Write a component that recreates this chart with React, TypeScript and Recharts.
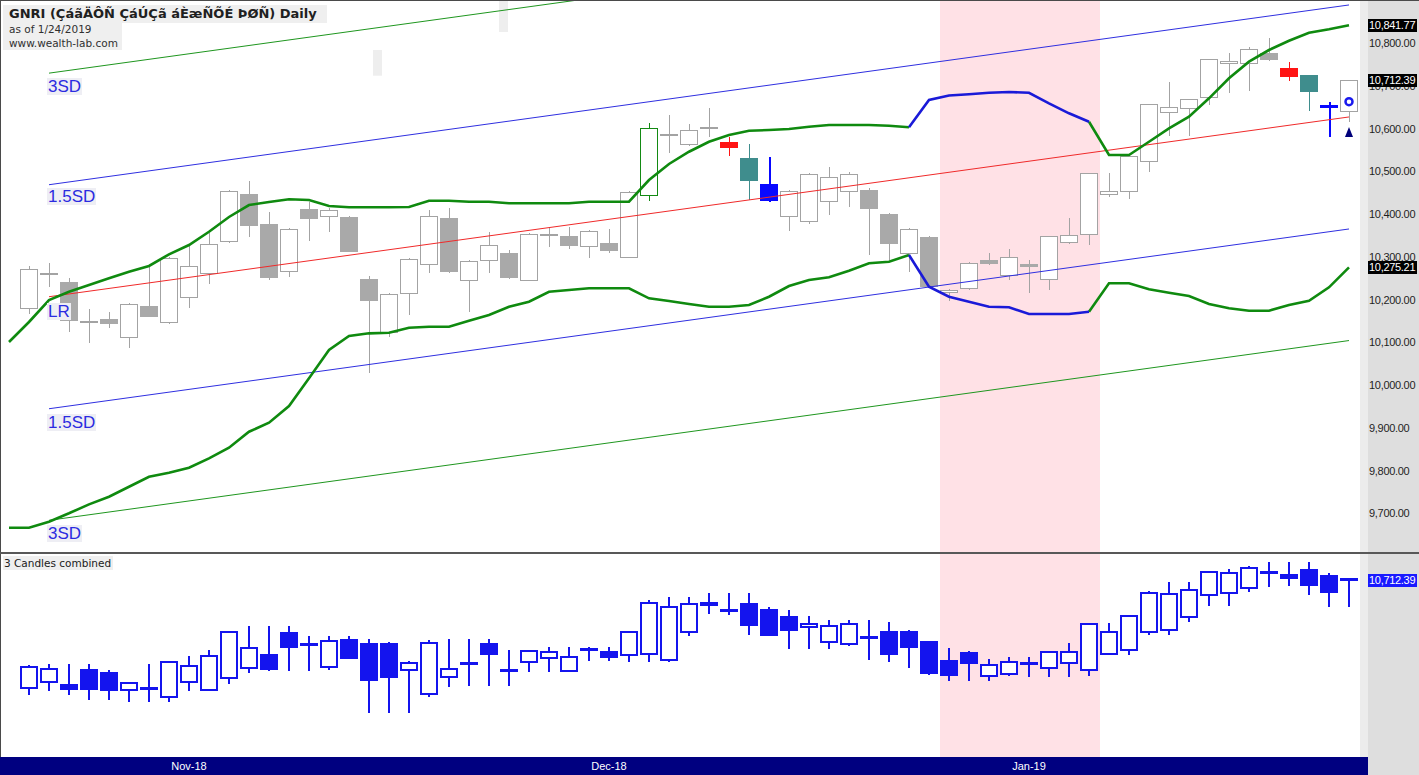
import { Bar, ComposedChart, Line, ReferenceArea, XAxis, YAxis } from "recharts";

// daily bars, index 0 = first candle drawn
const open = [
  10177.8, 10259.7, 10240.9, 10145.0, 10154.4, 10109.9, 10184.8, 10145.0, 10203.5, 10259.7,
  10334.5, 10446.8, 10376.6, 10264.4, 10411.7, 10393.0, 10393.0, 10248.0, 10121.6, 10212.9,
  10280.7, 10390.6, 10243.3, 10290.1, 10308.8, 10243.3, 10350.0, 10348.6, 10322.8, 10332.2,
  10297.1, 10442.1, 10584.0, 10561.4, 10600.5, 10568.4, 10531.0, 10470.2, 10393.0, 10381.3,
  10428.1, 10451.5, 10456.1, 10400.0, 10306.4, 10346.2, 10215.2, 10224.6, 10292.4, 10255.0,
  10283.0, 10245.6, 10332.2, 10350.9, 10444.4, 10451.5, 10521.6, 10636.3, 10645.6, 10671.3,
  10750.9, 10750.9, 10776.6, 10741.5, 10725.1, 10651.0, 10638.6,
];
const high = [
  10278.4, 10285.4, 10250.3, 10177.8, 10170.8, 10191.8, 10280.7, 10299.4, 10325.2, 10355.6,
  10456.1, 10477.2, 10404.7, 10367.2, 10428.1, 10414.0, 10395.3, 10255.0, 10215.2, 10297.1,
  10409.4, 10414.0, 10292.4, 10357.9, 10315.8, 10355.6, 10369.6, 10369.6, 10362.6, 10364.9,
  10453.8, 10612.9, 10631.6, 10610.5, 10648.0, 10580.1, 10563.7, 10533.3, 10456.1, 10495.9,
  10509.9, 10498.2, 10460.8, 10402.3, 10367.2, 10348.6, 10224.6, 10287.7, 10308.8, 10318.1,
  10292.4, 10349.5, 10390.6, 10497.0, 10495.9, 10536.8, 10658.5, 10708.8, 10670.0, 10763.7,
  10776.6, 10790.6, 10811.7, 10755.6, 10726.0, 10662.0, 10713.5,
];
const low = [
  10166.1, 10229.2, 10124.0, 10098.2, 10133.3, 10086.5, 10158.0, 10142.7, 10180.1, 10236.3,
  10332.2, 10346.2, 10245.6, 10252.6, 10336.8, 10357.9, 10310.5, 10028.0, 10112.3, 10163.7,
  10262.0, 10262.0, 10170.8, 10262.0, 10248.0, 10242.5, 10322.8, 10318.1, 10297.1, 10308.8,
  10296.0, 10430.4, 10542.7, 10560.0, 10580.1, 10535.7, 10432.7, 10429.0, 10360.2, 10376.6,
  10397.7, 10416.4, 10304.1, 10292.4, 10264.4, 10228.0, 10196.5, 10222.2, 10280.7, 10245.6,
  10215.2, 10222.2, 10331.0, 10327.5, 10439.8, 10435.1, 10498.2, 10582.5, 10582.5, 10655.0,
  10683.0, 10687.7, 10759.0, 10711.1, 10640.9, 10580.1, 10615.2,
];
const close = [
  10271.4, 10260.5, 10149.7, 10149.7, 10142.7, 10189.5, 10159.0, 10297.1, 10278.4, 10329.8,
  10453.8, 10371.9, 10250.3, 10364.9, 10388.3, 10409.4, 10311.1, 10196.5, 10212.9, 10294.7,
  10395.3, 10264.4, 10290.1, 10327.5, 10250.3, 10353.2, 10351.5, 10325.2, 10360.2, 10313.5,
  10451.5, 10601.2, 10585.5, 10596.5, 10601.9, 10554.4, 10477.2, 10430.4, 10453.8, 10493.6,
  10486.5, 10493.6, 10411.7, 10329.8, 10364.9, 10229.2, 10222.2, 10285.4, 10283.0, 10299.4,
  10276.0, 10348.6, 10350.9, 10495.9, 10453.8, 10535.7, 10657.3, 10650.3, 10669.0, 10762.6,
  10757.9, 10786.0, 10760.2, 10720.5, 10685.4, 10650.3, 10712.39,
];
// the two bars before the window (only feed the 3-candle pane)
const priorOpen = [10154, 10187];
const priorHigh = [10270, 10280];
const priorLow = [10123, 10145];

// envelope bands, starting one bar before the first candle (index -1)
const bandUpper = [
  10100.6, 10147.4, 10198.8, 10218.2, 10233.9, 10249.6, 10265.0, 10278.4, 10305.7, 10327.5,
  10358.6, 10393.0, 10421.0, 10428.1, 10434.4, 10432.7, 10418.7, 10415.7, 10415.7, 10415.7,
  10416.4, 10431.1, 10431.1, 10428.8, 10428.8, 10425.0, 10425.0, 10425.0, 10425.0, 10428.8,
  10428.8, 10428.8, 10479.5, 10517.0, 10545.7, 10569.1, 10584.8, 10594.9, 10596.5, 10598.8,
  10604.2, 10608.2, 10608.2, 10608.2, 10606.5, 10602.8, 10666.7, 10677.2, 10680.0, 10683.7,
  10685.4, 10683.7, 10658.9, 10635.6, 10615.9, 10538.0, 10538.0, 10569.1, 10600.5, 10627.6,
  10670.6, 10717.4, 10756.3, 10783.6, 10805.4, 10824.1, 10832.0, 10841.77,
];
const bandLower = [
  9666.2, 9666.2, 9680.2, 9699.9, 9720.9, 9738.7, 9762.1, 9785.5, 9794.8, 9806.5,
  9828.5, 9853.3, 9890.8, 9911.8, 9950.9, 10015.7, 10081.9, 10114.6, 10120.9, 10122.3,
  10134.0, 10136.4, 10136.4, 10150.4, 10163.7, 10183.2, 10194.8, 10218.2, 10222.2, 10226.2,
  10226.2, 10226.2, 10202.8, 10196.5, 10189.5, 10183.2, 10183.2, 10187.1, 10206.5, 10231.6,
  10245.6, 10251.9, 10267.4, 10284.7, 10288.4, 10304.1, 10229.9, 10206.5, 10194.8, 10183.2,
  10181.8, 10166.1, 10166.1, 10166.1, 10171.5, 10237.9, 10237.9, 10223.9, 10215.9, 10208.2,
  10189.5, 10179.4, 10173.8, 10173.8, 10187.1, 10197.2, 10228.5, 10275.21,
];
const blueBandBars = [44, 53];

// regression channel end points (first, last bar)
const channelBars = [1, 66];
const lrLine = [10206.5, 10627];
const upper15 = [10468.5, 10889];
const lower15 = [9944.5, 10365];
const upper3 = [10729.5, 11150];
const lower3 = [9683.5, 10104];

const greenBars = [31];
const redBars = [35, 63];
const tealBars = [36, 64];
const blueBars = [37, 65];
const signalCircle = 10662.7;
const signalTriangle = 10591.8;

const shadeBars = [45.55, 53.55];
const priceTicks = [9700, 9800, 9900, 10000, 10100, 10200, 10300, 10400, 10500, 10600, 10700, 10800];
const monthTicks = [8, 29, 50];
const monthLabels = ["Nov-18", "Dec-18", "Jan-19"];

const W = 1419;
const MAIN_H = 552;
const LOWER_TOP = 554;
const LOWER_H = 221;
const AXIS_H = 18;
const X_DOMAIN: [number, number] = [-1.4, 66.55];
const MAIN_DOMAIN: [number, number] = [9609.4, 10900.6];
const LOWER_DOMAIN: [number, number] = [9802.6, 10851.8];
const SANS = "'Liberation Sans', Arial, sans-serif";
const TAHOMA = "'DejaVu Sans', Verdana, sans-serif";

const yMain = (v: number) => ((MAIN_DOMAIN[1] - v) / (MAIN_DOMAIN[1] - MAIN_DOMAIN[0])) * MAIN_H;
const yLower = (v: number) =>
  LOWER_TOP + ((LOWER_DOMAIN[1] - v) / (LOWER_DOMAIN[1] - LOWER_DOMAIN[0])) * (LOWER_H - AXIS_H);
const fmt = (v: number) =>
  v.toLocaleString("en-US", { minimumFractionDigits: 2, maximumFractionDigits: 2 });

const endValue = (pair: number[], i: number) =>
  i === channelBars[0] ? pair[0] : i === channelBars[1] ? pair[1] : null;

const mainRows = bandUpper.map((u, k) => {
  const i = k - 1;
  const lo = bandLower[k];
  const blue = i >= blueBandBars[0] && i <= blueBandBars[1];
  const green = i <= blueBandBars[0] || i >= blueBandBars[1];
  return {
    i,
    o: i >= 0 ? open[i] : null,
    h: i >= 0 ? high[i] : null,
    l: i >= 0 ? low[i] : null,
    c: i >= 0 ? close[i] : null,
    upG: green ? u : null,
    upB: blue ? u : null,
    loG: green ? lo : null,
    loB: blue ? lo : null,
    lr: endValue(lrLine, i),
    u15: endValue(upper15, i),
    l15: endValue(lower15, i),
    u3: endValue(upper3, i),
    l3: endValue(lower3, i),
    sigC: i === 66 ? signalCircle : null,
    sigT: i === 66 ? signalTriangle : null,
  };
});

// 3 candles combined: open of bar i-2, close of bar i, extremes of the three
const allOpen = [...priorOpen, ...open];
const allHigh = [...priorHigh, ...high];
const allLow = [...priorLow, ...low];
const comboRows = close.map((c, i) => {
  const k = i + 2;
  return {
    i,
    o: allOpen[k - 2],
    h: Math.max(allHigh[k - 2], allHigh[k - 1], allHigh[k]),
    l: Math.min(allLow[k - 2], allLow[k - 1], allLow[k]),
    c,
  };
});

const candleRange = (d: any) => (d.h == null ? null : [d.l, d.h]);

function lookOf(i: number) {
  if (greenBars.includes(i)) return { color: "#138a13", fill: "#138a13" };
  if (redBars.includes(i)) return { color: "#ff1414", fill: "#ff1414" };
  if (tealBars.includes(i)) return { color: "#3f8d8d", fill: "#3f8d8d" };
  if (blueBars.includes(i)) return { color: "#0808ff", fill: "#0808ff" };
  return { color: "#a3a3a3", fill: "#a9a9a9" };
}

function geometry(props: any) {
  const { x, y, width, height, payload } = props;
  const top = Math.min(y, y + height);
  const span = Math.abs(height);
  const { o, h, l, c } = payload;
  const toY = (v: number) => (h === l ? top : top + ((h - v) / (h - l)) * span);
  return {
    cx: Math.round(x + width / 2 - 0.01),
    yo: toY(o),
    yc: toY(c),
    yh: toY(h),
    yl: toY(l),
    up: c >= o,
  };
}

function MainCandle(props: any) {
  const p = props.payload;
  if (!p || p.h == null || props.x == null) return <g />;
  const { cx, yo, yc, yh, yl, up } = geometry(props);
  const look = lookOf(p.i);
  const thick = blueBars.includes(p.i) ? 2 : 1;
  const bt = Math.round(Math.min(yo, yc));
  const bb = Math.round(Math.max(yo, yc));
  const wx = thick === 2 ? cx + 1 : cx + 0.5;
  let body;
  if (bb - bt < 2) {
    body = (
      <line x1={cx - 9} x2={cx + 9} y1={(yo + yc) / 2} y2={(yo + yc) / 2} stroke={look.color} strokeWidth={thick === 2 ? 3 : 2} />
    );
  } else if (up) {
    body = <rect x={cx - 8.5} y={bt + 0.5} width={17} height={bb - bt - 1} fill="#ffffff" stroke={look.color} strokeWidth={1} />;
  } else {
    body = <rect x={cx - 9} y={bt} width={18} height={bb - bt} fill={look.fill} />;
  }
  return (
    <g shapeRendering="crispEdges">
      <line x1={wx} x2={wx} y1={yh} y2={yl} stroke={look.color} strokeWidth={thick} />
      {body}
    </g>
  );
}

const PANE_BLUE = "#1414ee";

function ComboCandle(props: any) {
  const p = props.payload;
  if (!p || p.h == null || props.x == null) return <g />;
  const { cx, yo, yc, yh, yl, up } = geometry(props);
  const bt = Math.round(Math.min(yo, yc));
  const bb = Math.round(Math.max(yo, yc));
  let body;
  if (bb - bt < 3) {
    body = <rect x={cx - 9} y={bt - 1} width={18} height={3} fill={PANE_BLUE} />;
  } else if (up) {
    body = <rect x={cx - 8} y={bt + 1} width={16} height={bb - bt - 2} fill="#ffffff" stroke={PANE_BLUE} strokeWidth={2} />;
  } else {
    body = <rect x={cx - 9} y={bt} width={18} height={bb - bt} fill={PANE_BLUE} />;
  }
  return (
    <g shapeRendering="crispEdges">
      <line x1={cx} x2={cx} y1={yh} y2={yl} stroke={PANE_BLUE} strokeWidth={2} />
      {body}
    </g>
  );
}

function PriceTick(props: any) {
  const { x, y, payload } = props;
  return (
    <text x={x} y={y} dy={4} textAnchor="start" fontSize={11} fontFamily={SANS} fill="#1e1e1e" letterSpacing={-0.3}>
      {fmt(payload.value)}
    </text>
  );
}

function MonthTick(props: any) {
  const { x, y, payload } = props;
  const k = monthTicks.indexOf(payload.value);
  return (
    <text x={x} y={y} dy={12.5} textAnchor="middle" fontSize={11} fontFamily={SANS} fill="#ffffff">
      {monthLabels[k]}
    </text>
  );
}

const circleDot = (p: any) =>
  p.value == null ? (
    <g key={`c${p.index}`} />
  ) : (
    <circle key={`c${p.index}`} cx={p.cx} cy={p.cy} r={3.5} fill="none" stroke="#1a1aee" strokeWidth={2.5} />
  );
const triangleDot = (p: any) =>
  p.value == null ? (
    <g key={`t${p.index}`} />
  ) : (
    <path key={`t${p.index}`} d={`M${p.cx},${p.cy - 5} L${p.cx + 4},${p.cy + 5} L${p.cx - 4},${p.cy + 5} Z`} fill="#00007a" />
  );

const channelLine = (key: string, color: string) => (
  <Line
    key={key}
    dataKey={key}
    type="linear"
    stroke={color}
    strokeWidth={1}
    dot={false}
    activeDot={false}
    connectNulls
    isAnimationActive={false}
  />
);

const bandLine = (key: string, color: string) => (
  <Line
    key={key}
    dataKey={key}
    type="linear"
    stroke={color}
    strokeWidth={2.6}
    dot={false}
    activeDot={false}
    isAnimationActive={false}
  />
);

const channelLabels = [
  { text: "3SD", top: 78 },
  { text: "1.5SD", top: 188 },
  { text: "LR", top: 303 },
  { text: "1.5SD", top: 414 },
  { text: "3SD", top: 525 },
];

const valueBox = (text: string, center: number, bg: string) => (
  <div
    key={text + bg}
    style={{
      position: "absolute",
      left: 1368,
      top: center - 6.5,
      width: 49,
      height: 13,
      background: bg,
      color: "#ffffff",
      font: `11px ${SANS}`,
      lineHeight: "13px",
      letterSpacing: -0.3,
      paddingLeft: 1,
      boxSizing: "border-box",
    }}
  >
    {text}
  </div>
);

export default function App() {
  const lastUpper = bandUpper[bandUpper.length - 1];
  const lastLower = bandLower[bandLower.length - 1];
  const lastClose = close[close.length - 1];
  return (
    <div style={{ position: "absolute", left: 0, top: 0, width: W, height: 775, background: "#ffffff", overflow: "hidden" }}>
      {/* right scale strip and date bar */}
      <div style={{ position: "absolute", left: 1360, top: 0, width: 8, height: 775, background: "#ececec" }} />
      <div style={{ position: "absolute", left: 1368, top: 0, width: 51, height: 775, background: "#dedede" }} />
      <div style={{ position: "absolute", left: 0, top: 757, width: 1368, height: 18, background: "#000080" }} />

      <div style={{ position: "absolute", left: 0, top: 0 }}>
        <ComposedChart width={W} height={MAIN_H} data={mainRows} margin={{ top: 0, right: 0, bottom: 0, left: 1 }}>
          <XAxis dataKey="i" type="number" domain={X_DOMAIN} allowDataOverflow hide />
          <YAxis
            orientation="right"
            type="number"
            domain={MAIN_DOMAIN}
            allowDataOverflow
            ticks={priceTicks}
            interval={0}
            width={59}
            axisLine={false}
            tickLine={false}
            tickSize={0}
            tickMargin={9}
            tick={<PriceTick />}
          />
          <ReferenceArea x1={shadeBars[0]} x2={shadeBars[1]} fill="#ffe1e6" fillOpacity={1} stroke="none" />
          <ReferenceArea x1={17.2} x2={17.65} y1={10723.5} y2={10783.6} fill="#eeeeee" fillOpacity={1} stroke="none" />
          <ReferenceArea x1={23.5} x2={23.95} y1={10825.7} y2={10900.6} fill="#eeeeee" fillOpacity={1} stroke="none" />
          <Bar dataKey={candleRange} barSize={18} shape={<MainCandle />} isAnimationActive={false} />
          {channelLine("u3", "#1f961f")}
          {channelLine("l3", "#1f961f")}
          {channelLine("u15", "#2f2fe0")}
          {channelLine("l15", "#2f2fe0")}
          {channelLine("lr", "#f02a2a")}
          {bandLine("upG", "#0f8a0f")}
          {bandLine("loG", "#0f8a0f")}
          {bandLine("upB", "#1a1ad8")}
          {bandLine("loB", "#1a1ad8")}
          <Line dataKey="sigC" stroke="none" dot={circleDot} activeDot={false} isAnimationActive={false} />
          <Line dataKey="sigT" stroke="none" dot={triangleDot} activeDot={false} isAnimationActive={false} />
        </ComposedChart>
      </div>

      <div style={{ position: "absolute", left: 0, top: LOWER_TOP }}>
        <ComposedChart width={W} height={LOWER_H} data={comboRows} margin={{ top: 0, right: 59, bottom: 0, left: 1 }}>
          <XAxis
            dataKey="i"
            type="number"
            domain={X_DOMAIN}
            allowDataOverflow
            ticks={monthTicks}
            interval={0}
            height={AXIS_H}
            axisLine={false}
            tickLine={false}
            tickSize={0}
            tickMargin={0}
            tick={<MonthTick />}
          />
          <YAxis hide type="number" domain={LOWER_DOMAIN} allowDataOverflow />
          <ReferenceArea x1={shadeBars[0]} x2={shadeBars[1]} fill="#ffe1e6" fillOpacity={1} stroke="none" />
          <Bar dataKey={candleRange} barSize={18} shape={<ComboCandle />} isAnimationActive={false} />
        </ComposedChart>
      </div>

      {/* frame */}
      <div style={{ position: "absolute", left: 0, top: 0, width: W, height: 1, background: "#4a4a4a" }} />
      <div style={{ position: "absolute", left: 0, top: 0, width: 1, height: 757, background: "#4a4a4a" }} />
      <div style={{ position: "absolute", left: 0, top: 552, width: W, height: 2, background: "#585858" }} />

      {/* titles */}
      <div style={{ position: "absolute", left: 3, top: 5, width: 324, height: 18, background: "#efefef" }} />
      <div style={{ position: "absolute", left: 3, top: 23, width: 119, height: 27, background: "#efefef" }} />
      <div style={{ position: "absolute", left: 9, top: 6, font: `bold 13px ${TAHOMA}`, color: "#202020", whiteSpace: "nowrap" }}>
        GNRI (ÇáãÄÔÑ ÇáÚÇã áÈæÑÕÉ ÞØÑ) Daily
      </div>
      <div style={{ position: "absolute", left: 9, top: 23, font: `10.5px ${TAHOMA}`, color: "#303030", whiteSpace: "nowrap" }}>
        as of 1/24/2019
      </div>
      <div style={{ position: "absolute", left: 9, top: 37, font: `10.5px ${TAHOMA}`, color: "#303030", whiteSpace: "nowrap" }}>
        www.wealth-lab.com
      </div>
      <div
        style={{
          position: "absolute",
          left: 3,
          top: 556,
          padding: "0 2px 0 1px",
          background: "#efefef",
          font: `10.5px ${TAHOMA}`,
          lineHeight: "14px",
          color: "#202020",
          whiteSpace: "nowrap",
        }}
      >
        3 Candles combined
      </div>

      {channelLabels.map((lab, k) => (
        <div
          key={k}
          style={{
            position: "absolute",
            left: 47,
            top: lab.top,
            padding: "0 1px",
            background: "#eeeef4",
            color: "#2b2be0",
            font: `17px ${SANS}`,
            lineHeight: "17px",
            whiteSpace: "nowrap",
          }}
        >
          {lab.text}
        </div>
      ))}

      {valueBox(fmt(lastUpper), yMain(lastUpper), "#000000")}
      {valueBox(fmt(lastClose), yMain(lastClose), "#000000")}
      {valueBox(fmt(lastLower), yMain(lastLower), "#000000")}
      {valueBox(fmt(lastClose), yLower(lastClose), "#1a1aff")}
    </div>
  );
}
